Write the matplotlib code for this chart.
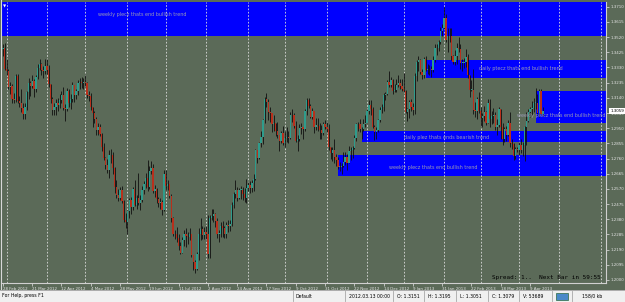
import numpy as np
import pandas as pd
import matplotlib
matplotlib.use("Agg")
import matplotlib.pyplot as plt
from matplotlib.patches import Rectangle
from matplotlib.lines import Line2D

# EURUSD, Daily, 28 Feb 2012 - 18 Apr 2013
first_open = 1.3445
closes = [
    1.3455, 1.3320,
    1.3310, 1.3205, 1.3215, 1.3135, 1.3125, 1.3275, 1.3120, 1.3110, 1.3079, 1.3040, 1.3085, 1.3175, 1.3235, 1.3215, 1.3245, 1.3195, 1.3270, 1.3325, 1.3350, 1.3315, 1.3305, 1.3340,
    1.3315, 1.3225, 1.3135, 1.3065, 1.3085, 1.3110, 1.3095, 1.3125, 1.3160, 1.3075, 1.3070, 1.3185, 1.3110, 1.3135, 1.3220, 1.3160, 1.3180, 1.3230, 1.3240, 1.3235, 1.3240,
    1.3235, 1.3160, 1.3150, 1.3080, 1.3045, 1.3010, 1.2940, 1.2955, 1.2915, 1.2830, 1.2765, 1.2720, 1.2690, 1.2780, 1.2780, 1.2700, 1.2585, 1.2530, 1.2515, 1.2565, 1.2495, 1.2375, 1.2365,
    1.2430, 1.2500, 1.2455, 1.2570, 1.2470, 1.2515, 1.2480, 1.2500, 1.2565, 1.2600, 1.2640, 1.2580, 1.2685, 1.2700, 1.2555, 1.2570, 1.2505, 1.2480, 1.2490, 1.2440, 1.2665,
    1.2590, 1.2600, 1.2525, 1.2385, 1.2285, 1.2290, 1.2260, 1.2215, 1.2170, 1.2250, 1.2290, 1.2275, 1.2270, 1.2285, 1.2155, 1.2115, 1.2070, 1.2160, 1.2290, 1.2320, 1.2280, 1.2300,
    1.2285, 1.2165, 1.2385, 1.2400, 1.2410, 1.2370, 1.2290, 1.2290, 1.2340, 1.2325, 1.2285, 1.2345, 1.2335, 1.2350, 1.2470, 1.2540, 1.2565, 1.2515, 1.2565, 1.2565, 1.2540, 1.2510, 1.2575,
    1.2595, 1.2575, 1.2605, 1.2630, 1.2815, 1.2765, 1.2860, 1.2895, 1.3000, 1.3130, 1.3115, 1.3050, 1.3045, 1.2975, 1.2980, 1.2935, 1.2905, 1.2870, 1.2920, 1.2860,
    1.2890, 1.2895, 1.2890, 1.3030, 1.3035, 1.2965, 1.2870, 1.2880, 1.2950, 1.2955, 1.2945, 1.3055, 1.3125, 1.3090, 1.3020, 1.3060, 1.2960, 1.2970, 1.2965, 1.2940, 1.2920, 1.2975, 1.2955,
    1.2945, 1.2830, 1.2795, 1.2815, 1.2770, 1.2750, 1.2710, 1.2710, 1.2715, 1.2740, 1.2770, 1.2735, 1.2810, 1.2815, 1.2825, 1.2890, 1.2975, 1.2975, 1.2945, 1.2945, 1.2975, 1.2985,
    1.3060, 1.3095, 1.3070, 1.2960, 1.2925, 1.2940, 1.3000, 1.3065, 1.3080, 1.3160, 1.3165, 1.3240, 1.3220, 1.3250, 1.3180, 1.3190, 1.3220, 1.3230, 1.3215, 1.3195,
    1.3185, 1.3050, 1.3070, 1.3115, 1.3080, 1.3065, 1.3275, 1.3365, 1.3375, 1.3300, 1.3285, 1.3385, 1.3315, 1.3320, 1.3320, 1.3315, 1.3380, 1.3455, 1.3450, 1.3490, 1.3560, 1.3580,
    1.3640, 1.3505, 1.3525, 1.3525, 1.3400, 1.3365, 1.3400, 1.3455, 1.3445, 1.3360, 1.3360, 1.3365, 1.3395, 1.3280, 1.3190, 1.3190, 1.3065, 1.3060, 1.3130, 1.3055,
    1.3015, 1.3025, 1.3050, 1.2985, 1.3110, 1.3005, 1.3025, 1.3030, 1.2955, 1.2970, 1.3070, 1.2960, 1.2880, 1.2945, 1.2905, 1.2985, 1.2860, 1.2850, 1.2775, 1.2820, 1.2815,
    1.2845, 1.2815, 1.2845, 1.2955, 1.2995, 1.3050, 1.3070, 1.3075, 1.3110, 1.3110, 1.3045, 1.3185, 1.3040, 1.3059,
]
highs = [
    1.3475, 1.3486,
    1.3385, 1.3320, 1.3240, 1.3225, 1.3170, 1.3290, 1.3290, 1.3150, 1.3195, 1.3105, 1.3105, 1.3185, 1.3265, 1.3245, 1.3280, 1.3255, 1.3285, 1.3355, 1.3385, 1.3360, 1.3340, 1.3385,
    1.3385, 1.3345, 1.3225, 1.3145, 1.3105, 1.3130, 1.3140, 1.3165, 1.3185, 1.3210, 1.3100, 1.3200, 1.3195, 1.3165, 1.3240, 1.3215, 1.3195, 1.3250, 1.3265, 1.3270, 1.3265,
    1.3282, 1.3240, 1.3180, 1.3170, 1.3080, 1.3060, 1.3020, 1.2980, 1.2975, 1.2920, 1.2860, 1.2770, 1.2760, 1.2815, 1.2820, 1.2800, 1.2710, 1.2625, 1.2570, 1.2585, 1.2590, 1.2500, 1.2420,
    1.2440, 1.2515, 1.2520, 1.2580, 1.2625, 1.2530, 1.2670, 1.2530, 1.2590, 1.2620, 1.2670, 1.2750, 1.2715, 1.2745, 1.2725, 1.2595, 1.2575, 1.2520, 1.2515, 1.2500, 1.2690,
    1.2690, 1.2625, 1.2600, 1.2535, 1.2395, 1.2315, 1.2330, 1.2285, 1.2235, 1.2270, 1.2310, 1.2325, 1.2300, 1.2325, 1.2290, 1.2155, 1.2125, 1.2175, 1.2325, 1.2390, 1.2335, 1.2330,
    1.2340, 1.2405, 1.2405, 1.2445, 1.2445, 1.2420, 1.2385, 1.2310, 1.2360, 1.2370, 1.2335, 1.2365, 1.2375, 1.2375, 1.2485, 1.2550, 1.2625, 1.2580, 1.2575, 1.2590, 1.2585, 1.2575, 1.2635,
    1.2615, 1.2620, 1.2625, 1.2665, 1.2820, 1.2815, 1.2865, 1.2935, 1.3005, 1.3145, 1.3172, 1.3130, 1.3085, 1.3045, 1.3030, 1.2985, 1.2990, 1.2910, 1.2935, 1.2965,
    1.2930, 1.2960, 1.2935, 1.3050, 1.3070, 1.3045, 1.2995, 1.2905, 1.2975, 1.2985, 1.2960, 1.3070, 1.3140, 1.3140, 1.3100, 1.3075, 1.3060, 1.3015, 1.3015, 1.2980, 1.2970, 1.2990, 1.3000,
    1.2990, 1.2975, 1.2835, 1.2830, 1.2880, 1.2790, 1.2770, 1.2740, 1.2730, 1.2800, 1.2800, 1.2790, 1.2840, 1.2830, 1.2840, 1.2905, 1.2985, 1.2990, 1.3010, 1.2960, 1.3010, 1.3030,
    1.3070, 1.3125, 1.3125, 1.3080, 1.2970, 1.2955, 1.3010, 1.3085, 1.3100, 1.3170, 1.3175, 1.3250, 1.3308, 1.3270, 1.3255, 1.3225, 1.3255, 1.3285, 1.3255, 1.3255,
    1.3295, 1.3190, 1.3075, 1.3125, 1.3135, 1.3110, 1.3295, 1.3375, 1.3403, 1.3385, 1.3320, 1.3395, 1.3400, 1.3350, 1.3345, 1.3340, 1.3405, 1.3480, 1.3480, 1.3500, 1.3585, 1.3600,
    1.3711, 1.3665, 1.3575, 1.3580, 1.3575, 1.3410, 1.3440, 1.3485, 1.3520, 1.3475, 1.3385, 1.3390, 1.3445, 1.3415, 1.3285, 1.3250, 1.3320, 1.3115, 1.3145, 1.3175,
    1.3080, 1.3045, 1.3090, 1.3060, 1.3130, 1.3130, 1.3060, 1.3075, 1.3050, 1.3005, 1.3080, 1.3070, 1.2985, 1.2955, 1.2965, 1.3000, 1.3050, 1.2885, 1.2860, 1.2835, 1.2835,
    1.2865, 1.2880, 1.2865, 1.2965, 1.3050, 1.3070, 1.3080, 1.3120, 1.3140, 1.3203, 1.3165, 1.3195, 1.3195, 1.3080,
]
lows = [
    1.3400, 1.3315,
    1.3285, 1.3195, 1.3165, 1.3105, 1.3105, 1.3115, 1.3105, 1.3080, 1.3051, 1.3005, 1.3010, 1.3065, 1.3135, 1.3150, 1.3200, 1.3145, 1.3175, 1.3260, 1.3315, 1.3285, 1.3265, 1.3290,
    1.3290, 1.3210, 1.3105, 1.3035, 1.3035, 1.3035, 1.3060, 1.3075, 1.3105, 1.3065, 1.2995, 1.3060, 1.3085, 1.3070, 1.3115, 1.3115, 1.3135, 1.3160, 1.3195, 1.3200, 1.3195,
    1.3215, 1.3140, 1.3120, 1.3065, 1.2955, 1.2985, 1.2910, 1.2910, 1.2900, 1.2810, 1.2750, 1.2695, 1.2670, 1.2640, 1.2735, 1.2665, 1.2545, 1.2515, 1.2495, 1.2500, 1.2480, 1.2360, 1.2325,
    1.2288, 1.2390, 1.2415, 1.2440, 1.2460, 1.2445, 1.2470, 1.2440, 1.2485, 1.2535, 1.2575, 1.2555, 1.2570, 1.2665, 1.2545, 1.2520, 1.2480, 1.2455, 1.2445, 1.2405, 1.2430,
    1.2565, 1.2565, 1.2510, 1.2360, 1.2275, 1.2255, 1.2240, 1.2185, 1.2160, 1.2170, 1.2215, 1.2205, 1.2225, 1.2250, 1.2145, 1.2065, 1.2042, 1.2060, 1.2125, 1.2250, 1.2255, 1.2255,
    1.2255, 1.2135, 1.2135, 1.2375, 1.2360, 1.2330, 1.2265, 1.2240, 1.2270, 1.2270, 1.2260, 1.2265, 1.2300, 1.2305, 1.2335, 1.2450, 1.2515, 1.2495, 1.2505, 1.2505, 1.2500, 1.2490, 1.2480,
    1.2560, 1.2545, 1.2550, 1.2560, 1.2625, 1.2735, 1.2755, 1.2835, 1.2850, 1.2985, 1.3085, 1.3000, 1.2990, 1.2925, 1.2935, 1.2900, 1.2890, 1.2805, 1.2855, 1.2845,
    1.2835, 1.2865, 1.2855, 1.2880, 1.2990, 1.2950, 1.2865, 1.2805, 1.2870, 1.2915, 1.2885, 1.2935, 1.3030, 1.3075, 1.3015, 1.3005, 1.2920, 1.2940, 1.2930, 1.2880, 1.2880, 1.2905, 1.2945,
    1.2925, 1.2815, 1.2760, 1.2745, 1.2730, 1.2715, 1.2695, 1.2680, 1.2661, 1.2705, 1.2720, 1.2690, 1.2730, 1.2750, 1.2765, 1.2820, 1.2870, 1.2930, 1.2925, 1.2880, 1.2935, 1.2960,
    1.2985, 1.3040, 1.3035, 1.2950, 1.2875, 1.2880, 1.2925, 1.2990, 1.3045, 1.3060, 1.3125, 1.3155, 1.3210, 1.3205, 1.3165, 1.3175, 1.3175, 1.3205, 1.3195, 1.3180,
    1.3175, 1.3045, 1.2998, 1.3015, 1.3060, 1.3035, 1.3040, 1.3245, 1.3310, 1.3290, 1.3255, 1.3265, 1.3310, 1.3290, 1.3280, 1.3270, 1.3300, 1.3365, 1.3410, 1.3435, 1.3480, 1.3530,
    1.3570, 1.3490, 1.3430, 1.3490, 1.3375, 1.3355, 1.3345, 1.3355, 1.3430, 1.3320, 1.3305, 1.3325, 1.3335, 1.3265, 1.3145, 1.3180, 1.3040, 1.3020, 1.3005, 1.3045,
    1.2965, 1.2955, 1.2995, 1.2970, 1.2980, 1.2955, 1.2975, 1.2985, 1.2940, 1.2910, 1.2960, 1.2880, 1.2845, 1.2865, 1.2870, 1.2900, 1.2835, 1.2820, 1.2750, 1.2755, 1.2800,
    1.2785, 1.2795, 1.2775, 1.2745, 1.2845, 1.2990, 1.3020, 1.3030, 1.3050, 1.3070, 1.3030, 1.3020, 1.3030, 1.3025,
]

holidays = ["2012-12-25", "2013-01-01"]
dates = pd.bdate_range("2012-02-28", "2013-04-18").drop(pd.to_datetime(holidays))

date_labels = ["28 Feb 2012", "21 Mar 2012", "12 Apr 2012", "4 May 2012", "28 May 2012",
               "19 Jun 2012", "11 Jul 2012", "2 Aug 2012", "24 Aug 2012", "17 Sep 2012",
               "9 Oct 2012", "31 Oct 2012", "22 Nov 2012", "14 Dec 2012", "9 Jan 2013",
               "31 Jan 2013", "22 Feb 2013", "18 Mar 2013", "9 Apr 2013"]
price_labels = ["1.2000", "1.2095", "1.2190", "1.2285", "1.2380", "1.2475", "1.2570",
                "1.2665", "1.2760", "1.2855", "1.2950", "1.3045", "1.3140", "1.3235",
                "1.3330", "1.3425", "1.3520", "1.3615", "1.3710"]

# rectangles: start date (None = off chart to the left), low price, high price
zone_starts = [None, "2013-01-18", "2013-04-12", "2012-11-28", "2012-11-09"]
zone_lows = [1.3527, 1.3265, 1.2983, 1.2864, 1.2651]
zone_highs = [1.3760, 1.3377, 1.3183, 1.2933, 1.2783]
# text objects: text, anchor date, price
notes = [("weekly plecz thats end bullish trend", "2012-05-10", 1.3659),
         ("daily ptecz thats end bullish trend", "2013-02-28", 1.3321),
         ("weekly plecz thats end bullish trend", "2013-03-29", 1.3027),
         ("daily plez thats ends bearish trend", "2013-01-02", 1.2889),
         ("weekly plecz thats end bullish trend", "2012-12-19", 1.2707)]

status_texts = [("For Help, press F1", 2), ("Default", 296), ("2012.03.13 00:00", 349),
                ("O: 1.3151", 397), ("H: 1.3195", 428), ("L: 1.3051", 460),
                ("C: 1.3079", 492), ("V: 53689", 523), ("158/0 kb", 582)]
status_seps = [293, 345, 393, 424, 456, 488, 519, 552, 572]

BG = "#5b6a58"
FG = "#e4e4e4"
W, H = 625, 302

fig = plt.figure(figsize=(6.25, 3.02), dpi=100, facecolor=BG)
ax = fig.add_axes([2 / W, (H - 283) / H, 604 / W, 281 / H])
ax.set_facecolor(BG)

n = len(closes)
idx = np.arange(n)
c = np.array(closes)
o = np.concatenate([[first_open], c[:-1]])
hi = np.array(highs)
lo = np.array(lows)

x_right = 329.5
ax.set_xlim(-0.5, x_right)
ax.set_ylim(1.1981, 1.3740)

def pos(d):
    return dates.get_loc(pd.Timestamp(d))

# zones
for start, zl, zh in zip(zone_starts, zone_lows, zone_highs):
    x0 = -2 if start is None else pos(start)
    ax.add_patch(Rectangle((x0, zl), x_right + 2 - x0, zh - zl,
                           facecolor="#0000ff", edgecolor="none", zorder=1))

# monthly period separators (calendar extended into the right margin)
cal = pd.bdate_range("2012-02-28", "2013-06-30").drop(pd.to_datetime(holidays))
for k in range(1, len(cal)):
    if cal[k].month != cal[k - 1].month and k < x_right:
        ax.axvline(k, color="#dcdcdc", lw=0.6, ls=(0, (2, 2)), zorder=2)

# candles
up = c >= o
ax.vlines(idx, lo, hi, color="#101010", lw=0.6, zorder=3)
body_lo = np.minimum(o, c)
body_h = np.maximum(np.abs(c - o), 0.0003)
ax.bar(idx[up], body_h[up], bottom=body_lo[up], width=0.75, color="#2f9c8c",
       edgecolor="none", zorder=4)
ax.bar(idx[~up], body_h[~up], bottom=body_lo[~up], width=0.75, color="#b8301c",
       edgecolor="none", zorder=4)

for txt, d, p in notes:
    ax.text(pos(d), p, txt, fontsize=3.5, color="#9a9ab4", ha="left", va="center",
            zorder=5, clip_on=True)

# axes cosmetics
for s in ["top", "left"]:
    ax.spines[s].set_visible(False)
for s in ["right", "bottom"]:
    ax.spines[s].set_color("#d0d0d0")
    ax.spines[s].set_linewidth(0.8)
ax.yaxis.tick_right()
ax.set_yticks([float(v) for v in price_labels])
ax.set_yticklabels(price_labels)
ax.set_xticks([pos(pd.to_datetime(s, format="%d %b %Y")) for s in date_labels])
ax.set_xticklabels(date_labels, ha="left")
ax.tick_params(axis="y", colors=FG, labelsize=2.9, length=2, width=0.5, pad=1)
ax.tick_params(axis="x", colors=FG, labelsize=2.9, length=2, width=0.5, pad=1)

# current price label
ax.annotate(f"{c[-1]:.4f}", xy=(1.0, c[-1]), xycoords=("axes fraction", "data"),
            xytext=(3, 0), textcoords="offset points", fontsize=2.9, color="black",
            va="center", ha="left", annotation_clip=False,
            bbox=dict(boxstyle="square,pad=0.25", fc="white", ec="none"))

fig.text(492 / W, 1 - 278 / H, "Spread: 1..  Next Bar in 59:55", family="DejaVu Sans Mono",
         fontsize=4.3, color="black", ha="left", va="center")
fig.text(3 / W, 1 - 6 / H, "\u25bc", fontsize=3, color="white", ha="left", va="center")
fig.add_artist(Line2D([1.5 / W, 1.5 / W], [1 - 289 / H, 1], color="#d8d8d8", lw=0.8))

# status bar
fig.add_artist(Rectangle((0, 0), 1, 12 / H, transform=fig.transFigure,
                         facecolor="#f0f0f0", edgecolor="none"))
fig.add_artist(Line2D([0, 1], [12 / H, 12 / H], color="#a0a0a0", lw=0.6))
for sx in status_seps:
    fig.add_artist(Line2D([sx / W, sx / W], [1 / H, 11 / H], color="#a8a8a8", lw=0.6))
for txt, sx in status_texts:
    fig.text(sx / W, 6 / H, txt, fontsize=3.3, color="black", ha="left", va="center")
fig.add_artist(Rectangle((556 / W, 2.5 / H), 12 / W, 7 / H, transform=fig.transFigure,
                         facecolor="#4a8ac8", edgecolor="#2a6a40", lw=0.5))

fig.savefig("out.png", dpi=100, facecolor=BG)
